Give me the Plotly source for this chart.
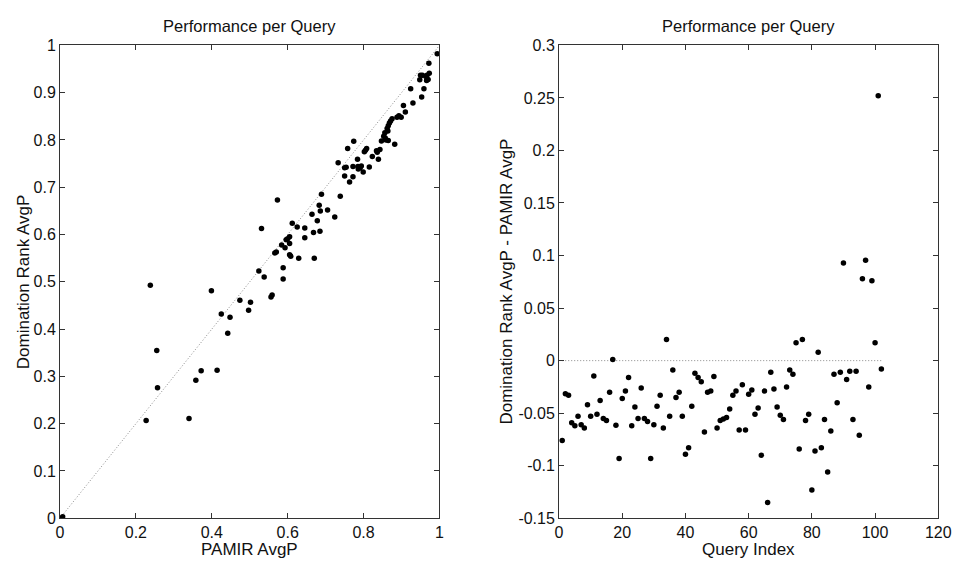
import plotly.graph_objects as go

# ---------------- data ----------------
pamir_avgp = [0.007, 0.227, 0.238, 0.255, 0.257, 0.340, 0.358, 0.372, 0.399, 0.414,
              0.425, 0.442, 0.448, 0.474, 0.497, 0.502, 0.524, 0.538, 0.531, 0.556,
              0.559, 0.573, 0.566, 0.570, 0.584, 0.588, 0.588, 0.593, 0.596, 0.600,
              0.605, 0.605, 0.605, 0.608, 0.612, 0.625, 0.629, 0.645, 0.645, 0.664,
              0.668, 0.670, 0.678, 0.683, 0.685, 0.686, 0.689, 0.705, 0.724, 0.733,
              0.7385, 0.750, 0.754, 0.750, 0.758, 0.763, 0.772, 0.772, 0.774, 0.785,
              0.784, 0.786, 0.791, 0.794, 0.799, 0.802, 0.805, 0.808, 0.815, 0.823,
              0.834, 0.836, 0.839, 0.843, 0.847, 0.853, 0.856, 0.857, 0.859, 0.862,
              0.864, 0.865, 0.865, 0.868, 0.871, 0.875, 0.882, 0.888, 0.893, 0.899,
              0.905, 0.910, 0.924, 0.930, 0.948, 0.950, 0.953, 0.955, 0.959, 0.964,
              0.966, 0.967, 0.970, 0.973, 0.972, 0.994]
domrank_avgp = [0.003, 0.207, 0.493, 0.355, 0.276, 0.211, 0.292, 0.312, 0.481, 0.313,
                0.432, 0.391, 0.425, 0.461, 0.440, 0.457, 0.523, 0.510, 0.613, 0.468,
                0.472, 0.673, 0.561, 0.563, 0.578, 0.530, 0.506, 0.572, 0.589, 0.591,
                0.5955, 0.581, 0.557, 0.554, 0.624, 0.616, 0.550, 0.614, 0.593, 0.643,
                0.6045, 0.550, 0.629, 0.662, 0.607, 0.650, 0.685, 0.652, 0.637, 0.752,
                0.681, 0.741, 0.742, 0.7236, 0.782, 0.711, 0.744, 0.722, 0.797, 0.744,
                0.759, 0.7386, 0.741, 0.745, 0.732, 0.775, 0.778, 0.782, 0.743, 0.765,
                0.777, 0.774, 0.759, 0.780, 0.7975, 0.808, 0.815, 0.804, 0.800, 0.824,
                0.819, 0.830, 0.799, 0.836, 0.840, 0.845, 0.791, 0.848, 0.851, 0.848,
                0.873, 0.859, 0.908, 0.878, 0.927, 0.937, 0.891, 0.937, 0.908, 0.934,
                0.9255, 0.937, 0.928, 0.941, 0.962, 0.982]

query_index = list(range(1, 103))
avgp_difference = [-0.076, -0.0315, -0.033, -0.059, -0.062, -0.053, -0.061, -0.064, -0.042, -0.053,
                   -0.0145, -0.051, -0.038, -0.055, -0.057, -0.030, 0.001, -0.0615, -0.093, -0.036,
                   -0.029, -0.016, -0.062, -0.044, -0.055, -0.026, -0.055, -0.058, -0.093, -0.061,
                   -0.0435, -0.033, -0.064, 0.020, -0.053, -0.009, -0.035, -0.030, -0.053, -0.089,
                   -0.083, -0.0435, -0.012, -0.016, -0.020, -0.068, -0.030, -0.029, -0.015, -0.064,
                   -0.057, -0.0555, -0.054, -0.046, -0.033, -0.029, -0.066, -0.023, -0.066, -0.032,
                   -0.028, -0.051, -0.045, -0.090, -0.029, -0.135, -0.011, -0.027, -0.044, -0.052,
                   -0.056, -0.025, -0.009, -0.013, 0.017, -0.084, 0.020, -0.057, -0.051, -0.123,
                   -0.086, 0.008, -0.083, -0.056, -0.106, -0.067, -0.013, -0.040, -0.011, 0.093,
                   -0.018, -0.010, -0.056, -0.010, -0.071, 0.078, 0.0955, -0.025, 0.076, 0.017,
                   0.252, -0.008]

diag_line = [0, 1]
zero_line_x = [1, 102]
zero_line_y = [0, 0]

left_xticks = [0, 0.2, 0.4, 0.6, 0.8, 1]
left_xticktext = ["0", "0.2", "0.4", "0.6", "0.8", "1"]
left_yticks = [0, 0.1, 0.2, 0.3, 0.4, 0.5, 0.6, 0.7, 0.8, 0.9, 1]
left_yticktext = ["0", "0.1", "0.2", "0.3", "0.4", "0.5", "0.6", "0.7", "0.8", "0.9", "1"]
right_xticks = [0, 20, 40, 60, 80, 100, 120]
right_xticktext = ["0", "20", "40", "60", "80", "100", "120"]
right_yticks = [-0.15, -0.1, -0.05, 0, 0.05, 0.1, 0.15, 0.2, 0.25, 0.3]
right_yticktext = ["-0.15", "-0.1", "-0.05", "0", "0.05", "0.1", "0.15", "0.2", "0.25", "0.3"]

# ---------------- figure ----------------
W, H = 966, 569
FONT = "Liberation Sans, Arial, Helvetica, sans-serif"
INK = "#111111"
LINE = "#333333"

fig = go.Figure()

fig.add_trace(go.Scatter(x=diag_line, y=diag_line, mode="lines",
                         line=dict(color="#8a8a8a", width=1, dash="1px,2px"),
                         xaxis="x", yaxis="y", showlegend=False, hoverinfo="skip"))
fig.add_trace(go.Scatter(x=pamir_avgp, y=domrank_avgp, mode="markers",
                         marker=dict(color="black", size=5.5, line=dict(width=0)),
                         xaxis="x", yaxis="y", showlegend=False))

fig.add_trace(go.Scatter(x=zero_line_x, y=zero_line_y, mode="lines",
                         line=dict(color="#8a8a8a", width=1, dash="1px,2px"),
                         xaxis="x2", yaxis="y2", showlegend=False, hoverinfo="skip"))
fig.add_trace(go.Scatter(x=query_index, y=avgp_difference, mode="markers",
                         marker=dict(color="black", size=5.5, line=dict(width=0)),
                         xaxis="x2", yaxis="y2", showlegend=False))

def px_x(p):
    return p / W

def px_y(p):
    return 1 - p / H

axis_common = dict(showline=True, linecolor=LINE, linewidth=1, mirror="ticks",
                   ticks="inside", ticklen=5, tickcolor=LINE, tickwidth=1,
                   showgrid=False, zeroline=False,
                   tickfont=dict(family=FONT, size=16, color=INK))

y_dom = [px_y(526), px_y(38.5)]

fig.update_layout(
    width=W, height=H,
    margin=dict(l=0, r=0, t=0, b=0),
    paper_bgcolor="white", plot_bgcolor="white",
    xaxis=dict(domain=[px_x(57), px_x(443.3)], range=[0, 1], anchor="y",
               tickvals=left_xticks, ticktext=left_xticktext, **axis_common),
    yaxis=dict(domain=y_dom, range=[0, 1], anchor="x",
               tickvals=left_yticks, ticktext=left_yticktext, **axis_common),
    xaxis2=dict(domain=[px_x(565), px_x(951)], range=[0, 120], anchor="y2",
                tickvals=right_xticks, ticktext=right_xticktext, **axis_common),
    yaxis2=dict(domain=y_dom, range=[-0.15, 0.3], anchor="x2",
                tickvals=right_yticks, ticktext=right_yticktext, **axis_common),
)

ann_font = dict(family=FONT, size=17, color=INK)
annotations = [
    dict(text="Performance per Query", x=px_x(250), y=px_y(19), xref="paper", yref="paper",
         showarrow=False, xanchor="center", yanchor="middle", font=dict(family=FONT, size=16.5, color=INK)),
    dict(text="Performance per Query", x=px_x(758), y=px_y(19), xref="paper", yref="paper",
         showarrow=False, xanchor="center", yanchor="middle", font=dict(family=FONT, size=16.5, color=INK)),
    dict(text="PAMIR AvgP", x=px_x(250), y=px_y(558), xref="paper", yref="paper",
         showarrow=False, xanchor="center", yanchor="middle", font=ann_font),
    dict(text="Query Index", x=px_x(758), y=px_y(558), xref="paper", yref="paper",
         showarrow=False, xanchor="center", yanchor="middle", font=ann_font),
    dict(text="Domination Rank AvgP", x=px_x(20), y=px_y(282), xref="paper", yref="paper",
         showarrow=False, xanchor="center", yanchor="middle", textangle=-90, font=ann_font),
    dict(text="Domination Rank AvgP - PAMIR AvgP", x=px_x(512), y=px_y(282), xref="paper", yref="paper",
         showarrow=False, xanchor="center", yanchor="middle", textangle=-90, font=ann_font),
]
fig.update_layout(annotations=annotations)

fig.write_html("out.html")
